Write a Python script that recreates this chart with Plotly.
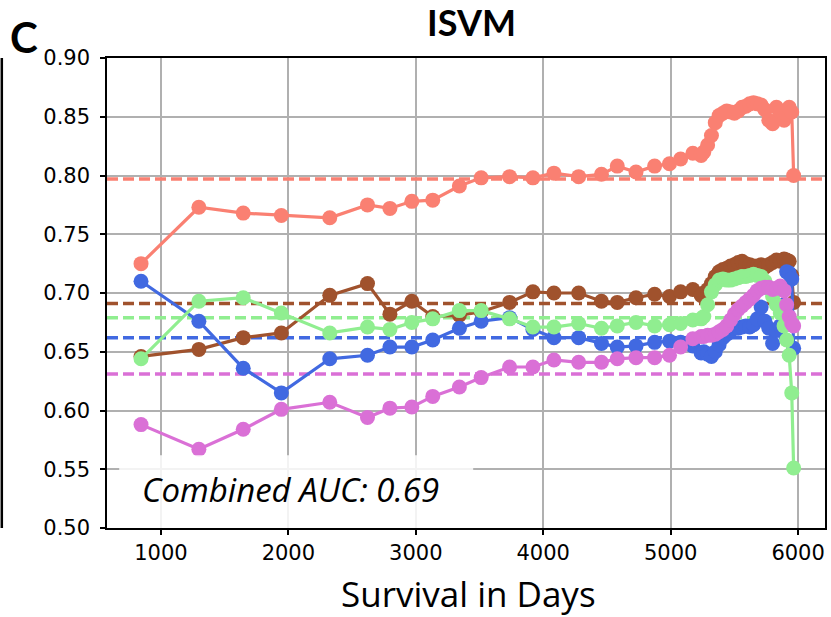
import plotly.graph_objects as go

# survival time points (days) shared by every subtype curve
days = [844, 1298, 1646, 1945, 2325, 2621, 2797, 2969, 3133, 3342, 3513, 3736,
        3919, 4084, 4278, 4457, 4581, 4728, 4874, 4991, 5078, 5174, 5239,
        5260, 5290, 5320, 5350, 5380, 5410, 5440, 5470, 5500, 5530, 5560, 5590,
        5620, 5650, 5680, 5710, 5740, 5770, 5800, 5830, 5860, 5890, 5910, 5930,
        5950, 5965]

auc_salmon = [0.725, 0.773, 0.768, 0.766, 0.764, 0.775, 0.772, 0.778, 0.779, 0.791, 0.798, 0.799,
              0.798, 0.802, 0.799, 0.801, 0.808, 0.803, 0.808, 0.810, 0.814, 0.819, 0.817,
              0.820, 0.826, 0.834, 0.845, 0.851, 0.853, 0.855, 0.854, 0.853, 0.855, 0.858, 0.859,
              0.861, 0.862, 0.861, 0.860, 0.856, 0.847, 0.844, 0.858, 0.854, 0.847, 0.852, 0.858,
              0.854, 0.800]
auc_brown = [0.646, 0.652, 0.662, 0.666, 0.698, 0.708, 0.682, 0.693, 0.680, 0.681, 0.684, 0.692,
             0.701, 0.700, 0.700, 0.693, 0.692, 0.696, 0.699, 0.697, 0.701, 0.703, 0.698,
             0.700, 0.703, 0.708, 0.714, 0.718, 0.720, 0.721, 0.723, 0.724, 0.726, 0.727, 0.725,
             0.724, 0.723, 0.723, 0.724, 0.722, 0.724, 0.726, 0.728, 0.727, 0.729, 0.728, 0.727,
             0.715, 0.692]
auc_blue = [0.710, 0.676, 0.636, 0.615, 0.644, 0.647, 0.654, 0.654, 0.660, 0.670, 0.676, 0.679,
            0.669, 0.662, 0.662, 0.657, 0.654, 0.655, 0.658, 0.659, 0.658, 0.655, 0.649,
            0.650, 0.648, 0.646, 0.650, 0.656, 0.662, 0.665, 0.668, 0.670, 0.670, 0.671, 0.672,
            0.671, 0.673, 0.678, 0.688, 0.676, 0.670, 0.657, 0.668, 0.672, 0.690, 0.718, 0.717,
            0.712, 0.653]
auc_green = [0.644, 0.693, 0.696, 0.683, 0.666, 0.671, 0.669, 0.675, 0.678, 0.685, 0.685, 0.678,
             0.671, 0.671, 0.674, 0.670, 0.672, 0.675, 0.672, 0.673, 0.674, 0.677, 0.678,
             0.680, 0.690, 0.701, 0.707, 0.711, 0.712, 0.711, 0.711, 0.712, 0.713, 0.714, 0.714,
             0.715, 0.716, 0.715, 0.714, 0.710, 0.704, 0.697, 0.690, 0.683, 0.672, 0.660, 0.647,
             0.615, 0.551]
auc_magenta = [0.588, 0.567, 0.584, 0.601, 0.607, 0.594, 0.602, 0.603, 0.612, 0.620, 0.628, 0.637,
               0.637, 0.643, 0.641, 0.641, 0.644, 0.645, 0.645, 0.647, 0.654, 0.661, 0.663,
               0.663, 0.664, 0.664, 0.665, 0.667, 0.669, 0.672, 0.677, 0.682, 0.686, 0.689, 0.692,
               0.695, 0.698, 0.702, 0.704, 0.705, 0.705, 0.703, 0.704, 0.706, 0.702, 0.690, 0.680,
               0.674, 0.672]

# mean AUC per subtype (dashed lines)
mean_auc = [0.797, 0.691, 0.662, 0.679, 0.631]
colors = ['#FA8072', '#A0522D', '#4169E1', '#90EE90', '#DA70D6']
series = [auc_salmon, auc_brown, auc_blue, auc_green, auc_magenta]

x_range = [577, 6211]
y_range = [0.5, 0.9]

title = "ISVM"
combined = "Combined AUC: 0.69"

fig = go.Figure()

# mean lines first so the curves sit on top of them
for m, col in zip(mean_auc, colors):
    fig.add_trace(go.Scatter(x=x_range, y=[m, m], mode='lines', hoverinfo='skip',
                             line=dict(color=col, width=3.5, dash='11px,5px'), showlegend=False))

for ys, col in zip(series, colors):
    fig.add_trace(go.Scatter(x=days, y=ys, mode='lines+markers',
                             line=dict(color=col, width=3.2),
                             marker=dict(color=col, size=15), showlegend=False))

shapes = [
    # translucent box behind the combined AUC text
    dict(type='rect', xref='x domain', yref='y domain', x0=0.017, x1=0.51, y0=0, y1=0.155,
         fillcolor='rgba(255,255,255,0.85)', line=dict(width=0), layer='above'),
    # edge of neighbouring panel
    dict(type='line', xref='paper', yref='paper', x0=-0.1465, x1=-0.1465, y0=0, y1=1,
         line=dict(color='black', width=2.5)),
]

axis_common = dict(showline=True, linecolor='black', linewidth=1.5, mirror=True,
                   ticks='outside', ticklen=5, tickwidth=1.5, tickcolor='black',
                   showgrid=True, gridcolor='#b0b0b0', gridwidth=1.5, zeroline=False,
                   tickfont=dict(family='DejaVu Sans', size=21, color='black'))

fig.update_layout(
    width=831, height=617,
    margin=dict(l=107, r=4, t=58, b=89),
    plot_bgcolor='white', paper_bgcolor='white',
    shapes=shapes,
    xaxis=dict(range=x_range, tickvals=[1000, 2000, 3000, 4000, 5000, 6000], **axis_common),
    yaxis=dict(range=y_range, tickvals=[0.5, 0.55, 0.6, 0.65, 0.7, 0.75, 0.8, 0.85, 0.9],
               tickformat='.2f', ticklabelstandoff=6, **axis_common),
    annotations=[
        dict(text='<b>' + title + '</b>', xref='paper', yref='paper', x=0.507, y=1,
             xanchor='center', yanchor='middle', yshift=36, showarrow=False,
             font=dict(family='Lato', size=36, color='black')),
        dict(text='<b>C</b>', xref='paper', yref='paper', x=-0.115, y=1, xanchor='center',
             yanchor='middle', yshift=21, showarrow=False,
             font=dict(family='Lato', size=42, color='black')),
        dict(text='Survival in Days', xref='paper', yref='paper', x=0.503, y=0,
             xanchor='center', yanchor='middle', yshift=-65, showarrow=False,
             font=dict(family='Open Sans', size=35, color='black')),
        dict(text='<i>' + combined + '</i>', xref='paper', yref='paper', x=0.0458, y=0.081,
             xanchor='left', yanchor='middle', showarrow=False,
             font=dict(family='Open Sans', size=33, color='black')),
    ],
)

# page has a default body margin; drop it so the figure sits at the window corner
fig.write_html("out.html", config={'displayModeBar': False},
               post_script="document.body.style.margin='0';")
